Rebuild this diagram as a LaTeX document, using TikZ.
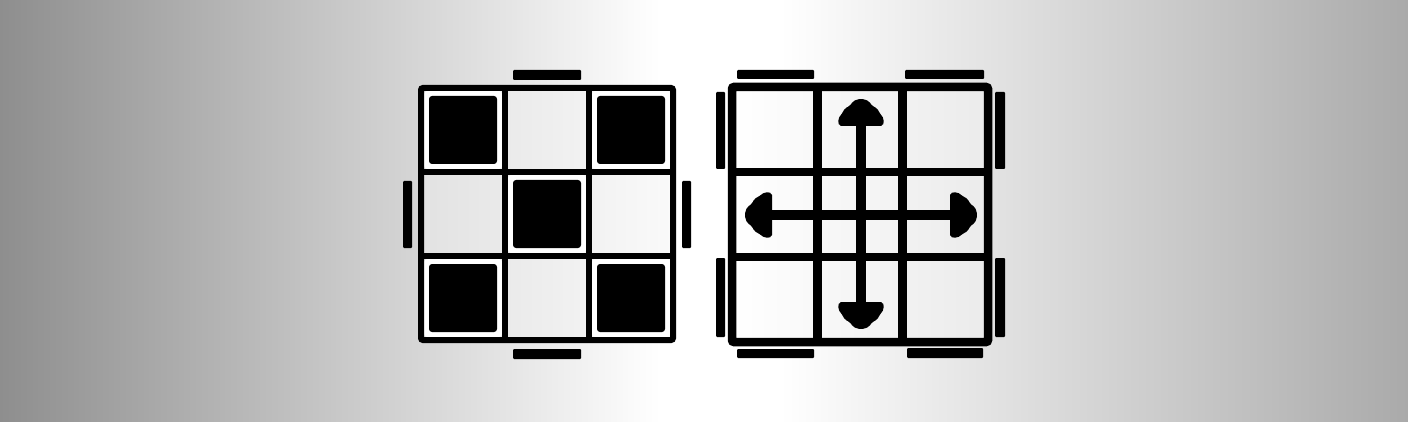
\documentclass[tikz,border=0pt]{standalone}
\begin{document}
\begin{tikzpicture}[x=1pt,y=-1pt,
  bar/.style={fill=black,rounded corners=1pt},
  gline/.style={draw=black,line width=6pt},
  gline2/.style={draw=black,line width=8.5pt},
  darkring/.style={fill=white,rounded corners=3pt},
  darksq/.style={fill=black,rounded corners=3pt},
  shaft/.style={draw=black,line width=10pt},
  ahead/.pic={\fill[rounded corners=2pt] (0,-0.5) -- (8,2) -- (11,7) -- (16,9) -- (18,13) -- (23,20) -- (22,27) -- (-22,27) -- (-23,20) -- (-18,13) -- (-16,9) -- (-11,7) -- (-8,2) -- cycle;}
]
\definecolor{bgl}{RGB}{142,142,142}
\definecolor{bgr}{RGB}{170,170,170}
\definecolor{cellL}{RGB}{226,226,226}
\definecolor{cellR}{RGB}{250,250,250}
\useasboundingbox (0,0) rectangle (1408,422);
% background
\shade[left color=bgl,right color=white] (0,0) rectangle (660,422);
\fill[white] (659,0) rectangle (781,422);
\shade[left color=white,right color=bgr] (780,0) rectangle (1408,422);

% ---------- left grid ----------
\shade[left color=cellL,right color=cellR] (421,88) rectangle (673,340);
\foreach \x/\y in {421/88,589/88,505/172,421/256,589/256}{
  \fill[darkring] (\x+3,\y+3) rectangle (\x+81,\y+81);
}
\draw[gline,rounded corners=2pt] (421,88) rectangle (673,340);
\draw[gline] (505,88) -- (505,340) (589,88) -- (589,340)
             (421,172) -- (673,172) (421,256) -- (673,256);
\foreach \x/\y in {421/88,589/88,505/172,421/256,589/256}{
  \fill[darksq] (\x+8,\y+8) rectangle (\x+76,\y+76);
}
\fill[bar] (513,70) rectangle (581,80);
\fill[bar] (513,349) rectangle (581,359);
\fill[bar] (403,181) rectangle (412,248);
\fill[bar] (682,181) rectangle (691,248);

% ---------- right grid ----------
\shade[left color=white,right color=cellR!94!black] (732,87) rectangle (988,342);
\draw[gline2,rounded corners=2pt] (732,87) rectangle (988,342);
\draw[gline2] (817.5,87) -- (817.5,342) (902.5,87) -- (902.5,342)
              (732,172) -- (988,172) (732,257) -- (988,257);
\fill[bar] (737,70) rectangle (814,79);
\fill[bar] (905,70) rectangle (984,79);
\fill[bar] (737,349) rectangle (814,358);
\fill[bar] (907,348) rectangle (983,358);
\fill[bar] (716,92) rectangle (725,169);
\fill[bar] (716,258) rectangle (725,337);
\fill[bar] (995,92) rectangle (1005,169);
\fill[bar] (995,258) rectangle (1005,337);

% arrows
\coordinate (up) at (861,99);
\coordinate (dn) at (861,329);
\coordinate (lf) at (745,215);
\coordinate (rt) at (977,215);
\draw[shaft] ([yshift=-20pt]up) -- ([yshift=20pt]dn);
\draw[shaft] ([xshift=20pt]lf) -- ([xshift=-20pt]rt);
\pic at (up) {ahead};
\pic[rotate=180] at (dn) {ahead};
\pic[rotate=90] at (lf) {ahead};
\pic[rotate=-90] at (rt) {ahead};
\end{tikzpicture}
\end{document}
